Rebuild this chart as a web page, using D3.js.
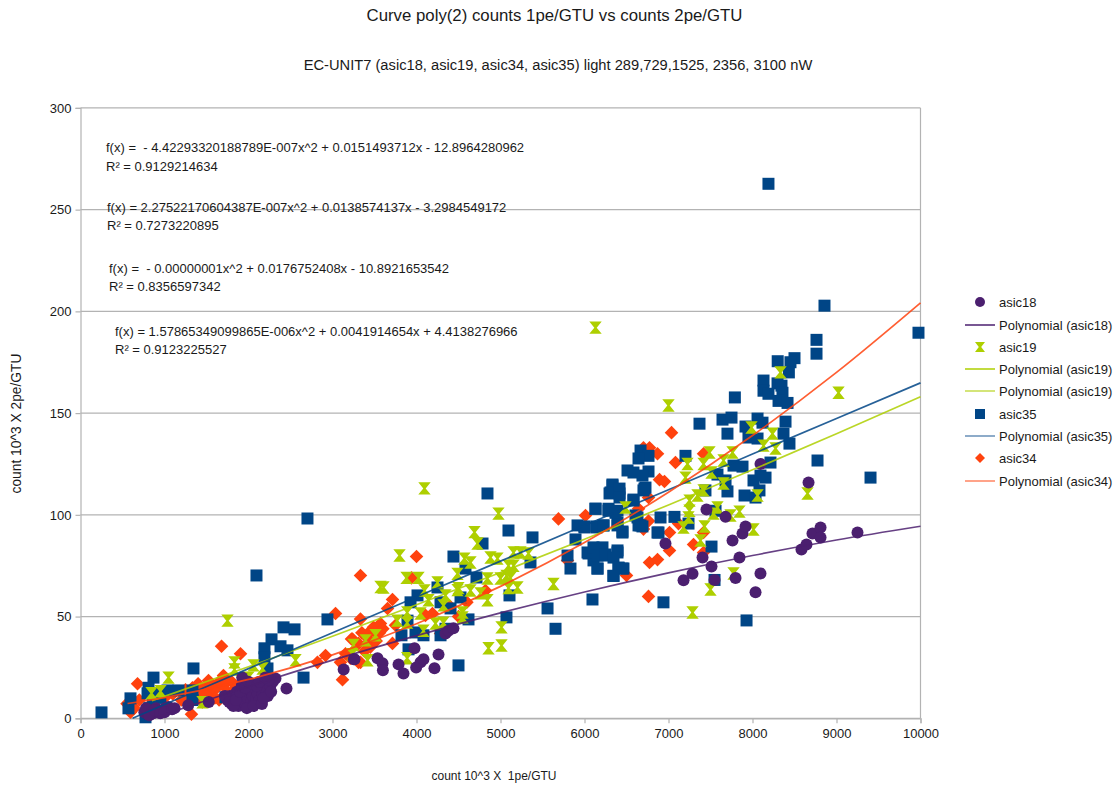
<!DOCTYPE html>
<html><head><meta charset="utf-8">
<script src="https://cdn.jsdelivr.net/npm/d3@7/dist/d3.min.js"></script>
<style>html,body{margin:0;background:#fff}svg{display:block}text{font-family:"Liberation Sans",sans-serif;fill:#1a1a1a;white-space:pre}</style>
</head><body><svg id="c" width="1120" height="787"></svg>
<script>
const chartTitle="Curve poly(2) counts 1pe/GTU vs counts 2pe/GTU";
const chartSubtitle="EC-UNIT7 (asic18, asic19, asic34, asic35) light 289,729,1525, 2356, 3100 nW";
const xLabel="count 10^3 X  1pe/GTU";
const yLabel="count 10^3 X 2pe/GTU";
const xTicks=[0,1000,2000,3000,4000,5000,6000,7000,8000,9000,10000];
const yTicks=[0,50,100,150,200,250,300];
const asic18=[[760,3],[800,2],[830,4],[860,2.5],[900,5],[930,3],[970,4],[1010,5],[1050,5.5],[780,5],[820,1.5],[880,4],[950,2.5],[1000,3],[1090,4.5],[1120,5],[1282,6.4],[1527,8],
[1750,9],[1780,11],[1800,7],[1830,10],[1860,13],[1880,6],[1900,9],[1925,20],[1940,12],[1960,7],[1990,10],[2010,14],[2030,8],[2050,11],[2070,15],[2090,10],[2110,12],[2130,9],[2150,15],[2170,12],[2190,17],[2210,14],[2230,11],[2260,16],[2290,18],[2321,19.6],[2452,14.7],
[1720,11],[1770,8],[1820,6],[1850,9],[1900,13],[1920,16],[1960,15],[1980,5],[2000,18],[2040,17],[2060,6],[2100,16],[2130,18],[2160,7],[2180,10],[2240,19],[2270,13],[2200,20],
[3133,24],[3254,29],[3262,29],[3536,29.5],[3595,27],[3600,23.6],[3786,26.5],[3845,22],[3976,34.4],[3996,25],[4048,27.5],[4083,29],[4214,24.6],[4262,31.4],[4345,41.7],[4380,43],[4440,44.2],
[6964,85.9],[7179,67.8],[7286,71],[7405,79],[7512,74.6],[7548,68],[7452,102.6],[7679,99],[7845,79],[7798,69],[7762,87.4],[7881,90.8],[7917,94.3],[8095,125],[8095,71.2],[8036,61.9],[8583,83],[8643,85.4],[8667,115.9],[8714,90.8],[8810,93.8],[8810,88.9],[9250,91.3]];
const asic19=[[845,12.3],[952,13.3],[1048,20],[1452,7.9],[1750,48],[1833,27.5],[1833,24],[2060,26],[2000,20],[2167,24.5],[2560,28.5],[3250,36],[3236,31.5],[3393,38.3],[3417,28.5],[3512,40.8],[3571,64.5],
[4095,113],[4976,100.6],[4690,91.5],[4726,85.9],[3798,80],[3607,64.3],[3881,69],[4024,69],[4571,78.5],[4643,76.6],[4881,79],[4964,78.5],[5155,81.5],[5238,81.5],[5333,81],[5095,75],[5155,75],[5071,70],[5631,66],[5119,69],[5202,64.3],[5095,64],[5000,68.7],[4845,68.7],[4488,71],[4488,63],[4250,66.8],[4095,62.8],[4143,58],[4345,60.4],[4500,64],[4643,62.8],[4762,61.4],[4845,58],[4321,55.5],[4048,51.5],[3889,52],[3889,47],[3770,48],[4226,46.6],[4321,47],[4548,52],[4548,49.6],[4083,43],[3889,29.5],[5012,44.7],[5012,35.8],[4857,34.4],
[7000,153.7],[6488,103.6],[7226,125],[7202,118.3],[7488,130.6],[7417,125],[7655,126.7],[7762,130.6],[7512,120.8],[7655,115.4],[7417,112],[7345,109.5],[7250,107],[7250,102],[7238,98.7],[7179,93.8],[7429,94.3],[7381,87.4],[7583,103.6],[7536,100.6],[7738,99.7],[7845,101.6],[8012,92.8],[7774,71.2],[7500,63.3],[7286,52],[8060,109.5],[7988,142.9],[8131,134],[8238,139.9],[8274,132.6],[8655,110.5],[6131,192],[9024,160],[8333,170]];
const asic35=[[250,2.9],[571,4.9],[595,9.8],[774,0.5],[798,12.3],[869,20],[810,15],[860,8],[900,12],[950,10],[820,5],[1036,13.7],[1167,13.7],[1333,13.7],[1345,24.5],[1333,9],[1726,10.3],[2095,70.2],[2702,98.2],[2940,48.6],[2417,44.7],[2548,43.7],[2274,38.8],[2190,34.4],[2190,30],[2381,35.4],[2464,33.4],[2226,24.5],[2655,20],
[4845,110.5],[5095,92.3],[5381,88.9],[4440,79.5],[4786,85.9],[4583,73.6],[4714,69.2],[5357,76.6],[5107,60.4],[4250,64.3],[4012,60.4],[3929,57],[4286,57],[4524,59.4],[4405,54],[4619,48.6],[3893,48],[5071,49.6],[5560,54],[5655,44],[4500,26],[3905,33.9],[3821,40.8],[3988,42.2],[4083,40.8],[4345,44],[4286,40.8],
[6095,58.4],[5833,73.6],[5798,80],[5893,87.9],[5917,94.8],[6000,93.8],[6131,103],[6143,93.8],[6226,94.8],[6286,102],[6393,102],[6298,110.5],[6417,110.5],[6333,114.9],[6583,107],[6714,112.9],[6048,81],[6155,82.5],[6107,77.6],[6226,80],[6393,81.5],[6155,73.6],[6405,74],[6345,70],[6464,73.6],[6452,91.3],[6393,96],[6631,98.7],[6667,94.8],[6869,91.3],
[6940,57],[7929,48.1],[7512,84.4],[7548,68],[7202,129],[7369,144.8],[7643,146.8],[7750,147.8],[7702,139.9],[7917,143.4],[8060,147.3],[8119,145.3],[8393,145.8],[8369,139.9],[8440,135],[7952,138],[8060,137.5],[7774,124.2],[7881,123.7],[8214,125.7],[8095,119.3],[8155,118.3],[8012,116.9],[8774,126.7],[9405,118.3],[7679,116.9],[7583,119.8],[7702,111.5],[7440,112],[7905,109.5],[8036,108.5],[8083,112],[7560,102],[6905,98.7],[7071,99],[7238,95.7],[6881,91.3],
[6667,131.6],[6762,129],[6643,127.7],[6512,121.8],[6583,120.8],[6762,121.3],[6690,119.3],[6726,113.4],[6702,112],[6333,114.4],[6310,111],[6417,112.9],[6417,108.5],[6583,107.5],[6131,103],[6286,103],[6369,101],[6607,99.7],[6000,94.3],[6143,94.3],[6226,94.8],[6393,94.8],[6452,91.8],[6643,94.8],[6690,94.3],[6036,81.5],[6107,84],[6214,84],[6155,80],[6250,80.5],[6393,82.5],[6345,79],[6155,73.6],[6405,74],[6452,73.6],[6345,70],
[8190,262.7],[8857,202.8],[9976,189.5],[8762,186],[8762,179.2],[8500,177],[8452,175],[8300,175.5],[8433,170],[8131,166],[7790,157.7],[8298,164.6],[8345,163.5],[8131,161],[8190,159.5],[8357,160],[8310,156],[8417,155]];
const asic34=[[679,17],[554,7.2],[595,3],[640,5],[700,9],[1321,2],[1679,35.4],[1905,31.7],[1524,18.6],[1702,21],[1333,15],[1000,10],[1100,12],[1200,9],[1300,11],[1400,13],[1450,10],[1500,15],[1550,12],[1600,14],[1650,9],[1700,16],[1750,13],[1800,18],[1850,15],[1400,17],[1250,14],[1450,8],[1550,17],[1600,10],[1650,18],[1750,19],[1500,11],
[3036,51.5],[3333,70.2],[3333,48.8],[3119,19],[2821,27.5],[2917,30.9],[3155,31.7],[3226,39],[3310,36.8],[3095,27.5],[3333,27.5],[3429,39],[3488,43],[4000,79.5],[3940,69],[3714,58.4],[3655,54],[3571,46.6],[3488,44.7],[3429,42],[3238,39],[3417,36.8],[3214,29.5],[3310,27.5],[3714,36.8],[3750,45.7],[4107,50.6],[4190,51.5],[4286,41.7],[4821,62.8],[4400,55],[4600,57],[4500,50],[3380,33],[3450,35],[3520,38],[3560,42],[3600,44],[3350,42],
[5690,98],[6012,99.7],[6762,108.5],[6762,97],[6702,93],[6500,70.2],[6774,76.6],[6869,78],[6762,59.9],[5798,77.6],[7036,140.4],[6702,133],[6774,133],[6869,130],[7083,125.7],[7417,130],[6893,117.3],[6952,116.4],[6643,103],[7119,95.7],[7012,91.3],[7298,85.4],[7417,81.5],[7012,82.5],[7417,91.3]];
const trend18X=[850,1000,2000,3000,4000,5000,6000,7000,8000,9000,10000];
const trend18Y=[-0.3,1.81,15.63,28.57,40.62,51.79,62.08,71.48,80,87.62,94.4];
const trend19X=[850,1000,2000,3000,4000,5000,6000,7000,8000,9000,10000];
const trend19Y=[8.64,10.79,25.32,40.32,55.77,71.68,88.03,104.85,122.12,139.85,158.02];
const trend35X=[620,1000,2000,3000,4000,5000,6000,7000,8000,9000,10000];
const trend35Y=[0,6.78,24.42,42.05,59.65,77.24,94.8,112.35,129.87,147.38,164.86];
const trend34X=[560,1000,2000,3000,4000,5000,6000,7000,8000,9000,10000];
const trend34Y=[7.26,10.18,19.1,31.19,46.44,64.84,86.39,111.1,138.97,170,204.19];
const equations=[
["f(x) =  - 4.42293320188789E-007x^2 + 0.0151493712x - 12.8964280962","R² = 0.9129214634"],
["f(x) = 2.27522170604387E-007x^2 + 0.0138574137x - 3.2984549172","R² = 0.7273220895"],
["f(x) =  - 0.00000001x^2 + 0.0176752408x - 10.8921653542","R² = 0.8356597342"],
["f(x) = 1.57865349099865E-006x^2 + 0.0041914654x + 4.4138276966","R² = 0.9123225527"]];
const legendItems=[["asic18","circle"],["Polynomial (asic18)","line18"],["asic19","hourglass"],["Polynomial (asic19)","line19"],["Polynomial (asic19)","line19b"],["asic35","square"],["Polynomial (asic35)","line35"],["asic34","diamond"],["Polynomial (asic34)","line34"]];

const C18="#4b1f6f",C19="#aecf00",C35="#004586",C34="#ff420e",GRID="#b3b3b3";
const svg=d3.select("#c");
const x=d3.scaleLinear().domain([0,10000]).range([80.5,920.5]);
const y=d3.scaleLinear().domain([0,300]).range([718.3,107.9]);

const grid=svg.append("g");
grid.selectAll("line").data(yTicks).join("line").attr("x1",x(0)).attr("x2",x(10000)).attr("y1",d=>y(d)).attr("y2",d=>y(d)).attr("stroke",GRID).attr("stroke-width",1.2);
grid.append("line").attr("x1",x(10000)).attr("x2",x(10000)).attr("y1",y(300)).attr("y2",y(0)).attr("stroke",GRID).attr("stroke-width",1.2);

const xa=svg.append("g").attr("transform",`translate(0,${y(0)})`).call(d3.axisBottom(x).tickValues(xTicks).tickFormat(d3.format("d")).tickSize(5).tickPadding(5));
const ya=svg.append("g").attr("transform",`translate(${x(0)},0)`).call(d3.axisLeft(y).tickValues(yTicks).tickFormat(d3.format("d")).tickSize(5).tickPadding(4));
[xa,ya].forEach(g=>{g.selectAll("path,line").attr("stroke",GRID).attr("stroke-width",1.2);g.selectAll("text").attr("font-size",13).attr("font-family",'"Liberation Sans"').attr("fill","#1a1a1a");});

function shape(kind,r){
  const p=d3.path();
  if(kind==="square"){p.rect(-r,-r,2*r,2*r);}
  else if(kind==="diamond"){p.moveTo(0,-r);p.lineTo(r,0);p.lineTo(0,r);p.lineTo(-r,0);p.closePath();}
  else if(kind==="hourglass"){p.moveTo(-r,-r);p.lineTo(r,-r);p.lineTo(1.2,0);p.lineTo(r,r);p.lineTo(-r,r);p.lineTo(-1.2,0);p.closePath();}
  else {return d3.symbol(d3.symbolCircle,Math.PI*r*r)();}
  return p.toString();
}
function marks(data,kind,color,r){
  svg.append("g").selectAll("path").data(data).join("path")
    .attr("d",shape(kind,r)).attr("fill",color)
    .attr("transform",d=>`translate(${x(d[0])},${y(d[1])})`);
}
marks(asic34,"diamond",C34,6.8);
marks(asic35,"square",C35,6);
marks(asic19,"hourglass",C19,6.2);
marks(asic18,"circle",C18,6);

const line=d3.line().x(d=>x(d[0])).y(d=>y(d[1])).curve(d3.curveMonotoneX);
function trend(xs,ys,color){
  svg.append("path").attr("d",line(xs.map((v,i)=>[v,ys[i]]))).attr("fill","none").attr("stroke",color).attr("stroke-width",1.7).attr("stroke-opacity",.85);
}
trend(trend18X,trend18Y,C18);
trend(trend19X,trend19Y,C19);
trend(trend35X,trend35Y,C35);
trend(trend34X,trend34Y,C34);

svg.append("text").attr("x",554.5).attr("y",21).attr("text-anchor","middle").attr("font-size",16.8).text(chartTitle);
svg.append("text").attr("x",558).attr("y",70).attr("text-anchor","middle").attr("font-size",14.7).text(chartSubtitle);
svg.append("text").attr("x",494).attr("y",780).attr("text-anchor","middle").attr("font-size",12).text(xLabel);
svg.append("text").attr("transform","translate(21,423.5) rotate(-90)").attr("text-anchor","middle").attr("font-size",13.8).text(yLabel);

const eqPos=[[106,152,171],[107,212,230],[109,273,291],[115,336,354]];
equations.forEach((e,i)=>{
  const p=eqPos[i];
  svg.append("text").attr("x",p[0]).attr("y",p[1]).attr("font-size",13).text(e[0]);
  svg.append("text").attr("x",p[0]).attr("y",p[2]).attr("font-size",13).text(e[1]);
});

const legendYs=[302,325,347,369,391,414,436,458,481];
const lineStyle={line18:[C18,1],line19:[C19,1],line19b:[C19,.7],line35:[C35,.6],line34:[C34,.65]};
legendItems.forEach((it,i)=>{
  const ly=legendYs[i];
  if(it[1].startsWith("line")){
    const s=lineStyle[it[1]];
    svg.append("line").attr("x1",965).attr("x2",995).attr("y1",ly).attr("y2",ly).attr("stroke",s[0]).attr("stroke-opacity",s[1]).attr("stroke-width",1.5);
    svg.append("text").attr("x",999).attr("y",ly+4.5).attr("font-size",13).text(it[0]);
  } else {
    const kind=it[1], col={circle:C18,hourglass:C19,square:C35,diamond:C34}[kind];
    svg.append("path").attr("d",shape(kind,5)).attr("fill",col).attr("transform",`translate(980,${ly})`);
    svg.append("text").attr("x",999).attr("y",ly+4.5).attr("font-size",13).text(it[0]);
  }
});
</script></body></html>
